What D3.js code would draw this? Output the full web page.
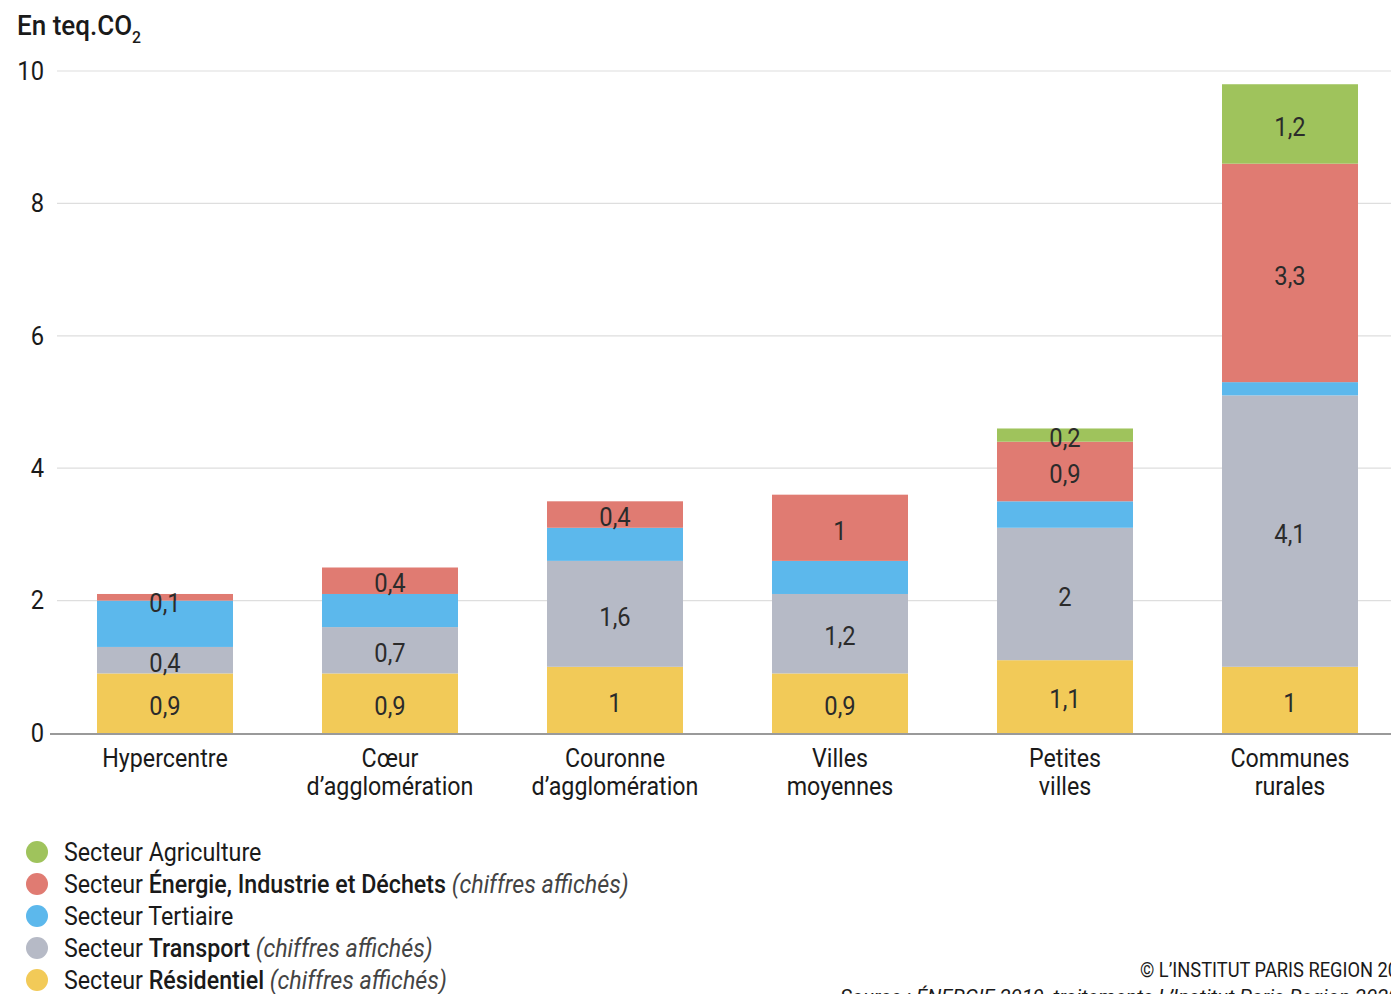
<!DOCTYPE html>
<html>
<head>
<meta charset="utf-8">
<script src="https://cdn.jsdelivr.net/npm/d3@7"></script>
<style>
  body { margin: 0; background: #fff; }
  svg { font-family: "Roboto", "Liberation Sans", sans-serif; }
</style>
</head>
<body>
<svg id="chart" width="1391" height="994"></svg>
<script>
// categories (each label split in lines)
const categories = ['Hypercentre', 'Cœur', 'Couronne', 'Villes', 'Petites', 'Communes'];
const categoryLines = [
    ['Hypercentre'],
    ['Cœur', 'd’agglomération'],
    ['Couronne', 'd’agglomération'],
    ['Villes', 'moyennes'],
    ['Petites', 'villes'],
    ['Communes', 'rurales']
];

// series values, stacked bottom to top
const residentiel = [0.9, 0.9, 1, 0.9, 1.1, 1];
const transport   = [0.4, 0.7, 1.6, 1.2, 2, 4.1];
const tertiaire   = [0.7, 0.5, 0.5, 0.5, 0.4, 0.2];
const energie     = [0.1, 0.4, 0.4, 1, 0.9, 3.3];
const agriculture = [0, 0, 0, 0, 0.2, 1.2];

const yTicks = [0, 2, 4, 6, 8, 10];

const series = [
    {key: 'residentiel', values: residentiel, color: '#f2ca58', shown: true},
    {key: 'transport', values: transport, color: '#b6bac6', shown: true},
    {key: 'tertiaire', values: tertiaire, color: '#5cb8ec', shown: false},
    {key: 'energie', values: energie, color: '#e07b72', shown: true},
    {key: 'agriculture', values: agriculture, color: '#9fc35c', shown: true}
];

// legend, top to bottom
const legendItems = [
    {color: '#9fc35c', parts: [['Secteur Agriculture', 'normal']]},
    {color: '#e07b72', parts: [['Secteur ', 'normal'], ['Énergie, Industrie et Déchets', 'bold'], [' (chiffres affichés)', 'italic']]},
    {color: '#5cb8ec', parts: [['Secteur Tertiaire', 'normal']]},
    {color: '#b6bac6', parts: [['Secteur ', 'normal'], ['Transport', 'bold'], [' (chiffres affichés)', 'italic']]},
    {color: '#f2ca58', parts: [['Secteur ', 'normal'], ['Résidentiel', 'bold'], [' (chiffres affichés)', 'italic']]}
];

const svg = d3.select('#chart');
const fmt = v => String(v).replace('.', ',');

// narrow the text horizontally around its own x (the original uses a condensed face)
function condense(sel, k) {
    sel.attr('transform', function() {
        const x = +this.getAttribute('x');
        return `translate(${x},0) scale(${k},1) translate(${-x},0)`;
    });
}

const xScale = d3.scaleBand()
    .domain(categories)
    .range([52.5, 1402.5])
    .paddingInner(0.3956)
    .paddingOuter(0.1978);
const yScale = d3.scaleLinear().domain([0, 10]).range([733, 71]);

// gridlines
svg.append('g').selectAll('line')
    .data(yTicks.filter(d => d > 0))
    .join('line')
    .attr('x1', 57).attr('x2', 1391)
    .attr('y1', d => yScale(d)).attr('y2', d => yScale(d))
    .attr('stroke', '#dedede')
    .attr('stroke-width', 1.2);

// y axis labels
svg.append('g').selectAll('text')
    .data(yTicks)
    .join('text')
    .attr('x', 44)
    .attr('y', d => yScale(d))
    .attr('dy', '0.35em')
    .attr('text-anchor', 'end')
    .attr('font-size', 25)
    .attr('fill', '#1a1a1a')
    .text(d => d)
    .call(condense, 0.95);

// title
svg.append('text')
    .attr('x', 17).attr('y', 35)
    .attr('font-size', 28)
    .attr('font-weight', 500)
    .attr('fill', '#1a1a1a')
    .text('En teq.CO')
    .call(condense, 0.93)
    .append('tspan')
    .attr('font-size', 17)
    .attr('dy', 8)
    .text('2');

// stack
const stackData = categories.map((c, i) => {
    const row = {cat: c};
    series.forEach(s => row[s.key] = s.values[i]);
    return row;
});
const stack = d3.stack().keys(series.map(s => s.key))(stackData);

const layers = svg.append('g').selectAll('g')
    .data(stack)
    .join('g')
    .attr('fill', (d, i) => series[i].color);

layers.selectAll('rect')
    .data(d => d)
    .join('rect')
    .attr('x', d => xScale(d.data.cat))
    .attr('width', xScale.bandwidth())
    .attr('y', d => yScale(d[1]))
    .attr('height', d => yScale(d[0]) - yScale(d[1]));

// value labels
stack.forEach((layer, i) => {
    if (!series[i].shown) return;
    svg.append('g').selectAll('text')
        .data(layer.filter(d => d[1] - d[0] > 0))
        .join('text')
        .attr('x', d => xScale(d.data.cat) + xScale.bandwidth() / 2)
        .attr('y', d => Math.max(yScale((d[0] + d[1]) / 2) + 3, yScale(d[1]) + 9))
        .attr('dy', '0.35em')
        .attr('text-anchor', 'middle')
        .attr('font-size', 25)
        .attr('fill', '#2b2b2b')
        .text(d => fmt(d.data[series[i].key]))
        .call(condense, 0.95);
});

// baseline
svg.append('line')
    .attr('x1', 50).attr('x2', 1391)
    .attr('y1', yScale(0) + 1).attr('y2', yScale(0) + 1)
    .attr('stroke', '#9a9a9a')
    .attr('stroke-width', 2);

// category labels
const xLabels = svg.append('g').selectAll('text')
    .data(categories)
    .join('text')
    .attr('x', d => xScale(d) + xScale.bandwidth() / 2)
    .attr('y', 767)
    .attr('text-anchor', 'middle')
    .attr('font-size', 25)
    .attr('fill', '#1a1a1a')
    .call(condense, 0.93);
xLabels.selectAll('tspan')
    .data((d, i) => categoryLines[i])
    .join('tspan')
    .attr('x', function() { return this.parentNode.getAttribute('x'); })
    .attr('dy', (d, i) => i === 0 ? 0 : 28)
    .text(d => d);

// legend
const legend = svg.append('g').selectAll('g')
    .data(legendItems)
    .join('g')
    .attr('transform', (d, i) => `translate(0,${852 + i * 32})`);
legend.append('circle')
    .attr('cx', 37).attr('cy', 0).attr('r', 11)
    .attr('fill', d => d.color);
const legendText = legend.append('text')
    .attr('x', 64).attr('y', 0)
    .attr('dy', '0.35em')
    .attr('font-size', 25)
    .attr('fill', '#1a1a1a')
    .call(condense, 0.93);
legendText.selectAll('tspan')
    .data(d => d.parts)
    .join('tspan')
    .attr('font-weight', d => d[1] === 'bold' ? 500 : 'normal')
    .attr('font-style', d => d[1] === 'italic' ? 'italic' : 'normal')
    .attr('fill', d => d[1] === 'italic' ? '#444' : '#1a1a1a')
    .text(d => d[0]);

// credits
svg.append('text')
    .attr('x', 1140).attr('y', 977)
    .attr('font-size', 21)
    .attr('fill', '#1a1a1a')
    .text('© L’INSTITUT PARIS REGION 2020')
    .call(condense, 0.87);
svg.append('text')
    .attr('x', 840).attr('y', 1004)
    .attr('font-size', 21)
    .attr('font-style', 'italic')
    .attr('fill', '#1a1a1a')
    .text('Source : ÉNERGIF 2019, traitements L’Institut Paris Region 2020')
    .call(condense, 0.97);
</script>
</body>
</html>
